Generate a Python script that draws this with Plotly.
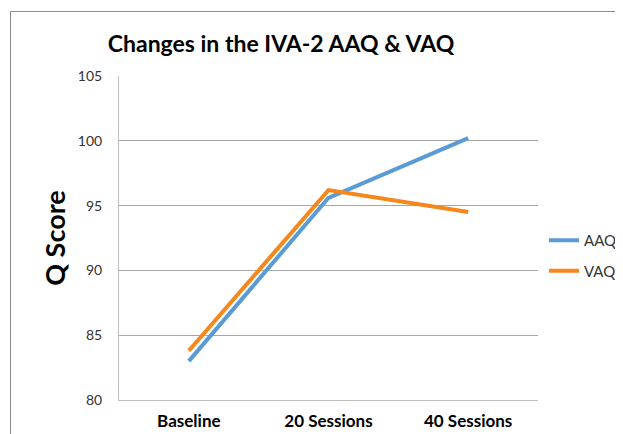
import plotly.graph_objects as go

categories = ["Baseline", "20 Sessions", "40 Sessions"]
aaq = [83.0, 95.6, 100.2]
vaq = [83.8, 96.2, 94.5]
y_ticks = [80, 85, 90, 95, 100, 105]

OFF = 8  # page body margin offset
W, H = 623, 434 - OFF
L, T = 119 - OFF, 76 - OFF
R = W - (538 - OFF)
B = H - (400 - OFF)
pw, ph = W - L - R, H - T - B

def px_x(x):
    return (x - OFF - L) / pw

def px_y(y):
    return 1 - (y - OFF - T) / ph

FONT = "Lato, Open Sans, sans-serif"

fig = go.Figure()
fig.add_trace(go.Scatter(x=categories, y=aaq, name="AAQ", mode="lines",
                         line=dict(color="#5B9BD5", width=4), legendgroup="a"))
fig.add_trace(go.Scatter(x=categories, y=vaq, name="VAQ", mode="lines",
                         line=dict(color="#F7861B", width=4), legendgroup="b"))

fig.update_layout(
    width=W, height=H,
    margin=dict(l=L, r=R, t=T, b=B, autoexpand=False),
    paper_bgcolor="white", plot_bgcolor="white",
    font=dict(family=FONT, color="#404040"),
    title=dict(text="<b>Changes in the IVA-2 AAQ &amp; VAQ</b>",
               font=dict(family=FONT, size=23, color="black"),
               x=(281 - OFF) / W, xanchor="center", y=1 - (44 - OFF) / H, yanchor="middle"),
    xaxis=dict(type="category", range=[-0.5, 2.5], showgrid=False, automargin=False,
               showline=True, linecolor="#BFBFBF", linewidth=1,
               ticks="", tickfont=dict(size=17, color="black", family=FONT, weight="bold"),
               ticklabelstandoff=6),
    yaxis=dict(range=[80, 105], tickvals=y_ticks, showgrid=True, automargin=False,
               gridcolor="#A6A6A6", gridwidth=1, zeroline=False,
               showline=True, linecolor="#BFBFBF", linewidth=1,
               ticks="", tickfont=dict(size=14, color="#333333"),
               ticklabelstandoff=13,
               title=dict(text="<b>Q Score</b>", standoff=4,
                          font=dict(size=27, color="black", family=FONT))),
    legend=dict(x=px_x(544), y=px_y(224), xanchor="left", yanchor="top",
                font=dict(size=15, color="#333333"), tracegroupgap=8,
                traceorder="grouped", bgcolor="rgba(0,0,0,0)", itemwidth=30),
    shapes=[
        dict(type="line", xref="paper", yref="paper",
             x0=px_x(10.5), x1=px_x(640), y0=px_y(11.5), y1=px_y(11.5),
             line=dict(color="#8C8C8C", width=1)),
        dict(type="line", xref="paper", yref="paper",
             x0=px_x(10.5), x1=px_x(10.5), y0=px_y(11.5), y1=px_y(450),
             line=dict(color="#8C8C8C", width=1)),
    ],
)

fig.write_html("out.html")
